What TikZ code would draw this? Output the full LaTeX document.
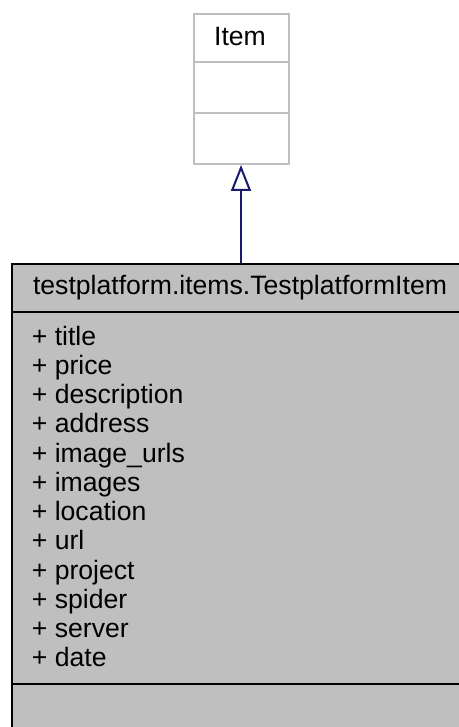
\documentclass[tikz,border=0pt]{standalone}
\usepackage{fontspec}
\setmainfont{Liberation Sans}
\usetikzlibrary{arrows.meta}
\definecolor{umlgray}{HTML}{BFBFBF}
\definecolor{edgeblue}{HTML}{191970}
\begin{document}
\begin{tikzpicture}[x=0.5pt,y=-0.5pt,
  txt/.style={inner sep=0pt, font=\fontsize{13.3}{14.6}\selectfont},
  attr/.style={txt, anchor=base west},
  basecls/.style={draw=umlgray, fill=white, line width=1pt, inner sep=0pt, anchor=north west, minimum width=47.5pt, minimum height=75pt},
  maincls/.style={draw=black, fill=umlgray, line width=1pt, inner sep=0pt, anchor=north west, minimum width=229pt, minimum height=237pt},
  inherit/.style={draw=edgeblue, line width=1pt, -{Triangle[open, length=13pt, width=10pt, fill=white]}}]
\useasboundingbox (0,0) rectangle (459,727);
\clip (0,0) rectangle (459,727);
% base class Item
\node[basecls] (item) at (192.5,13) {};
\draw[umlgray, line width=1pt] (item.north west |- 0,62) coordinate (i1) -- (item.north east |- 0,62) coordinate (i2);
\draw[umlgray, line width=1pt] (item.north west |- 0,113) coordinate (i3) -- (item.north east |- 0,113) coordinate (i4);
\node[txt, anchor=base] (itemname) at (240,45.7) {Item};
% derived class
\node[maincls] (main) at (11,262.5) {};
\draw[black, line width=1pt] (main.north west |- 0,312.3) coordinate (m1) -- (main.north east |- 0,312.3) coordinate (m2);
\draw[black, line width=1pt] (main.north west |- 0,684.3) coordinate (m3) -- (main.north east |- 0,684.3) coordinate (m4);
\node[txt, anchor=base] (mainname) at (240,294) {testplatform.items.TestplatformItem};
\node[attr] (a1) at (31.5,345) {+ title};
\node[attr] (a2) at (31.5,374.25) {+ price};
\node[attr] (a3) at (31.5,403.5) {+ description};
\node[attr] (a4) at (31.5,432.75) {+ address};
\node[attr] (a5) at (31.5,462) {+ image\_urls};
\node[attr] (a6) at (31.5,491.25) {+ images};
\node[attr] (a7) at (31.5,520.5) {+ location};
\node[attr] (a8) at (31.5,549.75) {+ url};
\node[attr] (a9) at (31.5,579) {+ project};
\node[attr] (a10) at (31.5,608.25) {+ spider};
\node[attr] (a11) at (31.5,637.5) {+ server};
\node[attr] (a12) at (31.5,666.75) {+ date};
% inheritance
\draw[inherit] (main.north) -- (item.south);
\end{tikzpicture}
\end{document}
